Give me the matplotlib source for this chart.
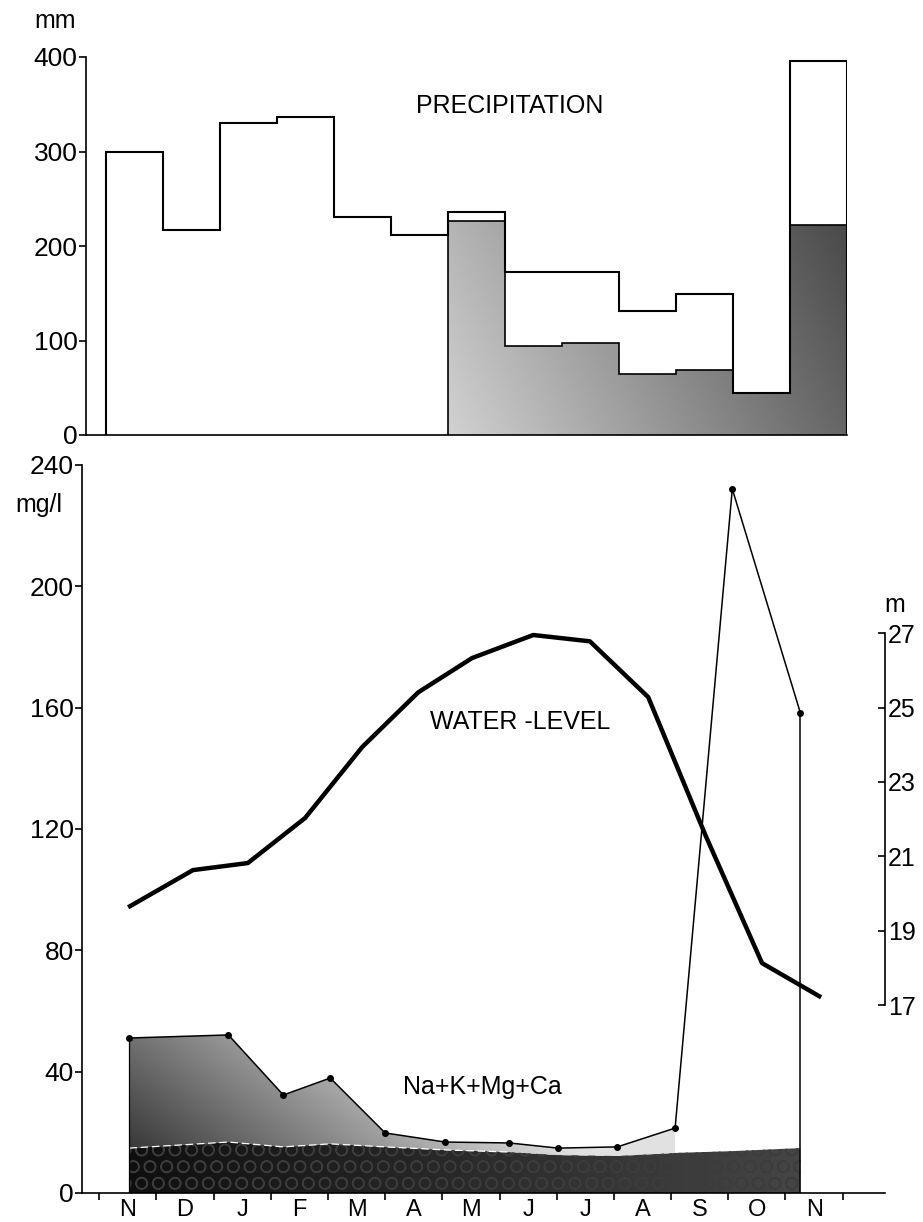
import numpy as np
import matplotlib
matplotlib.use('Agg')
import matplotlib.pyplot as plt
from matplotlib.patches import Polygon

plt.rcParams['font.family'] = ['Liberation Sans', 'DejaVu Sans']

# months Nov .. Nov
months = ['N', 'D', 'J', 'F', 'M', 'A', 'M', 'J', 'J', 'A', 'S', 'O', 'N']

# precipitation (mm), total per month and the shaded part (May .. Nov)
precip_total = [300, 217, 330, 336, 231, 212, 236, 172, 172, 131, 149, 44, 396]
precip_shaded = [226, 94, 97, 65, 69, 44, 222]
shade_start = 6

# Na+K+Mg+Ca (mg/l), sampling positions in months from start
sample_pos = [0.53, 2.26, 3.22, 4.04, 5.0, 6.05, 7.17, 8.02, 9.06, 10.07, 11.07, 12.26]
cations_total = [51.1, 52.1, 32.3, 37.9, 19.8, 16.8, 16.5, 14.8, 15.2, 21.4, 232.1, 158.3]
cations_base = [14.8, 16.8, 15.2, 16.2, 15.2, 14.2, 13.5, 12.5, 12.2, 13.2, 13.8, 14.8]
n_stipple = 10  # upper stippled part only up to August sample

# water level (m)
wl_pos = [0.54, 1.64, 2.60, 3.60, 4.60, 5.58, 6.52, 7.59, 8.58, 9.60, 10.6, 11.59, 12.59]
water_level = [19.66, 20.63, 20.82, 22.03, 23.94, 25.41, 26.33, 26.95, 26.78, 25.28, 21.57, 18.13, 17.24]

W, H = 923, 1222
fig = plt.figure(figsize=(W / 100, H / 100), dpi=100)


def px_axes(l, t, r, b):
    return fig.add_axes([l / W, 1 - b / H, (r - l) / W, (b - t) / H])


def ftext(x, y, s, **kw):
    fig.text(x / W, 1 - y / H, s, **kw)


TL = 19  # tick label size

# ---------------- precipitation ----------------
ax1 = px_axes(86, 57, 847, 435)
edges = np.arange(len(months) + 1)
ax1.set_xlim(-0.35, 13)
ax1.set_ylim(0, 400)

shade = ax1.stairs(precip_shaded, edges[shade_start:], baseline=0, fill=True,
                   facecolor='none', edgecolor='none')
gx = np.linspace(shade_start, 13, 200)
gy = np.linspace(0, 400, 200)
GX, GY = np.meshgrid(gx, gy)
g = np.clip(0.82 - 0.06 * (GX - shade_start) - 0.0005 * GY, 0.3, 0.95)
im = ax1.imshow(g, cmap='gray', vmin=0, vmax=1, origin='lower', aspect='auto',
                extent=[shade_start, 13, 0, 400], interpolation='bilinear', zorder=1)
im.set_clip_path(shade)
ax1.stairs(precip_shaded, edges[shade_start:], baseline=0, color='black', lw=1.2, zorder=2)
ax1.stairs(precip_total, edges, baseline=0, color='black', lw=1.5, zorder=3)

for s in ['top', 'right']:
    ax1.spines[s].set_visible(False)
ax1.spines['left'].set_bounds(0, 400)
ax1.spines['left'].set_linewidth(1.2)
ax1.spines['bottom'].set_linewidth(1.2)
ax1.set_xticks([])
ax1.set_yticks([0, 100, 200, 300, 400])
ax1.tick_params(axis='y', direction='out', length=5, width=1.2, labelsize=TL, pad=1)
ax1.set_xlim(-0.35, 13)
ftext(55, 21, 'mm', fontsize=18, ha='center', va='center')
ftext(510, 106, 'PRECIPITATION', fontsize=18, ha='center', va='center')

# ---------------- chemistry / water level ----------------
ax2 = px_axes(82, 465, 885, 1193)
ax2.set_xlim(-0.3, 13.74)
ax2.set_ylim(0, 240)

# dark base band
base_poly = Polygon(list(zip(sample_pos, cations_base)) +
                    [(sample_pos[-1], 0), (sample_pos[0], 0)],
                    closed=True, facecolor='none', edgecolor='none')
ax2.add_patch(base_poly)
bx = np.linspace(0, 13, 200)
BX, BY = np.meshgrid(bx, np.linspace(0, 20, 20))
gb = np.clip(0.05 + 0.018 * BX, 0.05, 0.3)
imb = ax2.imshow(gb, cmap='gray', vmin=0, vmax=1, origin='lower', aspect='auto',
                 extent=[0, 13, 0, 20], interpolation='bilinear', zorder=1)
imb.set_clip_path(base_poly)
ax2.fill_between(sample_pos, 0, cations_base, facecolor='none', edgecolor='#3c3c3c',
                 hatch='O', linewidth=0, zorder=2)
ax2.plot(sample_pos[:7], cations_base[:7], color='white', lw=0.9, ls=(0, (6, 3)), zorder=3)

# upper stippled part
up_poly = Polygon(list(zip(sample_pos[:n_stipple], cations_total[:n_stipple])) +
                  list(zip(sample_pos[:n_stipple], cations_base[:n_stipple]))[::-1],
                  closed=True, facecolor='none', edgecolor='none')
ax2.add_patch(up_poly)
ux = np.linspace(0, 11, 200)
uy = np.linspace(0, 60, 120)
UX, UY = np.meshgrid(ux, uy)
gu = np.clip(0.18 + 0.085 * UX + 0.006 * (UY - 15), 0.18, 0.88)
imu = ax2.imshow(gu, cmap='gray', vmin=0, vmax=1, origin='lower', aspect='auto',
                 extent=[0, 11, 0, 60], interpolation='bilinear', zorder=1)
imu.set_clip_path(up_poly)

ax2.plot(sample_pos, cations_total, color='black', lw=1.1, marker='o', ms=4, zorder=4)
ax2.plot([sample_pos[0], sample_pos[0]], [0, cations_total[0]], color='black', lw=0.9, zorder=4)
ax2.plot([sample_pos[-1], sample_pos[-1]], [0, cations_total[-1]], color='black', lw=1.1, zorder=4)

for s in ['top', 'right']:
    ax2.spines[s].set_visible(False)
ax2.spines['left'].set_bounds(0, 240)
ax2.spines['left'].set_linewidth(1.2)
ax2.spines['bottom'].set_linewidth(1.2)
ax2.set_yticks([0, 40, 80, 120, 160, 200, 240])
ax2.tick_params(axis='y', direction='out', length=5, width=1.2, labelsize=TL, pad=1)
ax2.set_xticks(edges)
ax2.set_xticklabels([])
ax2.tick_params(axis='x', which='major', direction='out', length=5, width=1.2)
ax2.set_xticks(edges[:-1] + 0.5, minor=True)
ax2.set_xticklabels(months, minor=True)
ax2.tick_params(axis='x', which='minor', length=0, labelsize=17, pad=4)

# water level on its own scale
ax3 = ax2.twinx()
ax3.set_ylim(11.95, 31.52)
ax3.plot(wl_pos, water_level, color='black', lw=3.2, solid_joinstyle='round', zorder=5)
for s in ['top', 'left', 'bottom']:
    ax3.spines[s].set_visible(False)
ax3.spines['right'].set_bounds(17, 27)
ax3.spines['right'].set_linewidth(1.2)
ax3.set_yticks([17, 19, 21, 23, 25, 27])
ax3.tick_params(axis='y', direction='in', length=5, width=1.2, labelsize=18, pad=2)

ftext(39, 505, 'mg/l', fontsize=18, ha='center', va='center')
ftext(895, 605, 'm', fontsize=18, ha='center', va='center')
ftext(520, 722, 'WATER -LEVEL', fontsize=18, ha='center', va='center')
ftext(482, 1087, 'Na+K+Mg+Ca', fontsize=18, ha='center', va='center')

fig.savefig('out.png', dpi=100)
